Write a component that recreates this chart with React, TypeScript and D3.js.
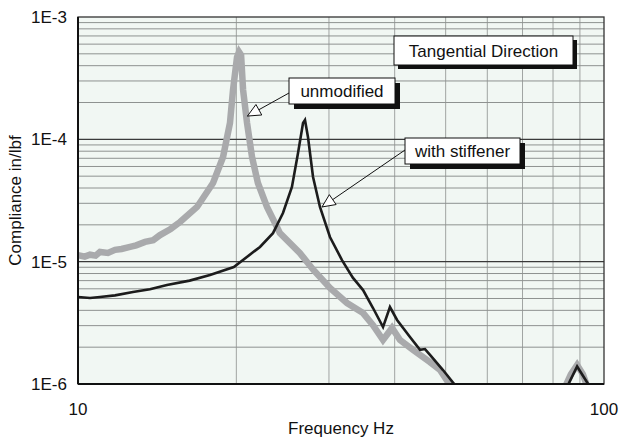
import React from 'react';
import * as d3 from 'd3';

// unmodified (grey, thick)
const grayFreq = [10.0, 10.3, 10.54, 10.8, 11.01, 11.4, 11.76, 12.1, 12.56, 12.9, 13.41, 13.9, 14.32, 15.0, 15.63, 16.84, 18.06, 18.87, 19.45, 19.71, 20.06, 20.24, 20.42, 20.6, 20.96, 21.42, 21.98, 22.87, 23.89, 24.2, 26.4, 28.0, 30.13, 32.47, 34.83, 36.38, 38.01, 39.54, 40.95, 43.35, 46.69, 48.78, 50.96, 60, 75, 83.6, 86.5, 88.9, 91.2, 93.6];
const grayVals = [1.13e-5, 1.1e-5, 1.14e-5, 1.12e-5, 1.2e-5, 1.18e-5, 1.25e-5, 1.27e-5, 1.32e-5, 1.36e-5, 1.45e-5, 1.5e-5, 1.65e-5, 1.85e-5, 2.11e-5, 2.8e-5, 4.4e-5, 7.17e-5, 1.36e-4, 2.53e-4, 4.71e-4, 5.18e-4, 4.89e-4, 2.53e-4, 1.36e-4, 7.17e-5, 4.4e-5, 2.8e-5, 1.92e-5, 1.71e-5, 1.18e-5, 8.6e-6, 6.09e-6, 4.59e-6, 3.8e-6, 3.03e-6, 2.29e-6, 2.87e-6, 2.29e-6, 1.9e-6, 1.51e-6, 1.3e-6, 0.98e-6, 0.7e-6, 0.6e-6, 0.87e-6, 1.2e-6, 1.43e-6, 1.2e-6, 0.87e-6];

// with stiffener (black)
const blackFreq = [10.0, 10.54, 11.01, 11.76, 12.72, 13.7, 14.76, 16.3, 17.82, 19.78, 22.18, 23.48, 24.53, 25.51, 26.2, 26.78, 27.01, 27.37, 27.98, 28.84, 30.13, 31.76, 33.3, 34.83, 36.38, 38.01, 39.18, 40.42, 42.77, 44.69, 45.68, 46.69, 49.42, 52.09, 60, 75, 85.1, 88.9, 94.0];
const blackVals = [5.14e-6, 5.05e-6, 5.14e-6, 5.3e-6, 5.65e-6, 5.95e-6, 6.44e-6, 7.0e-6, 7.78e-6, 9.04e-6, 1.32e-5, 1.71e-5, 2.5e-5, 4.08e-5, 7.73e-5, 1.36e-4, 1.44e-4, 1.04e-4, 4.92e-5, 2.8e-5, 1.59e-5, 1.03e-5, 7.4e-6, 5.86e-6, 4.18e-6, 2.92e-6, 4.26e-6, 3.34e-6, 2.42e-6, 1.9e-6, 1.93e-6, 1.73e-6, 1.3e-6, 0.98e-6, 0.7e-6, 0.6e-6, 0.95e-6, 1.39e-6, 0.95e-6];

const yTickLabels = ['1E-6', '1E-5', '1E-4', '1E-3'];
const yTickVals = [1e-6, 1e-5, 1e-4, 1e-3];
const xTickLabels = ['10', '100'];
const xTickVals = [10, 100];

const notes = [
  { text: 'unmodified', box: [289, 78, 106, 26], from: [289, 93], tip: [21.0, 1.55e-4] },
  { text: 'with stiffener', box: [405, 138, 115, 26], from: [405, 150], tip: [29.1, 2.8e-5] },
];

const font = '"Liberation Sans", Arial, sans-serif';

export default function App() {
  const W = 619, H = 439;
  const m = { left: 78, right: 604, top: 17, bottom: 384 };
  const x = d3.scaleLog().domain([10, 100]).range([m.left, m.right]);
  const y = d3.scaleLog().domain([1e-6, 1e-3]).range([m.bottom, m.top]);

  const line = d3.line<[number, number]>().x(d => x(d[0])).y(d => y(d[1]));
  const gray = line(grayFreq.map((f, i) => [f, grayVals[i]]) as [number, number][]) || '';
  const black = line(blackFreq.map((f, i) => [f, blackVals[i]]) as [number, number][]) || '';

  const yMinor: number[] = [];
  [1e-6, 1e-5, 1e-4].forEach(d => { for (let k = 2; k <= 9; k++) yMinor.push(k * d); });
  const xMinor = d3.range(20, 100, 10);

  const arrowHead = (fx: number, fy: number, tx: number, ty: number) => {
    const a = Math.atan2(fy - ty, fx - tx);
    const len = 13, half = 6;
    const bx = tx + Math.cos(a) * len, by = ty + Math.sin(a) * len;
    const px = -Math.sin(a) * half, py = Math.cos(a) * half;
    return `M${tx},${ty}L${bx + px},${by + py}L${bx - px},${by - py}Z`;
  };

  return (
    <svg width={W} height={H} style={{ position: 'absolute', left: 0, top: 0 }}>
      <defs>
        <clipPath id="plot">
          <rect x={m.left} y={m.top} width={m.right - m.left} height={m.bottom - m.top} />
        </clipPath>
      </defs>
      <rect width={W} height={H} fill="#fff" />
      <rect x={m.left} y={m.top} width={m.right - m.left} height={m.bottom - m.top} fill="#f1f7f3" />
      {xMinor.map(v => (
        <line key={'xv' + v} x1={x(v)} x2={x(v)} y1={m.top} y2={m.bottom} stroke="#a0a4a2" strokeWidth={1} />
      ))}
      {yMinor.map(v => (
        <line key={'ym' + v} x1={m.left} x2={m.right} y1={y(v)} y2={y(v)} stroke="#8e9290" strokeWidth={1} />
      ))}
      {[1e-5, 1e-4].map(v => (
        <line key={'yM' + v} x1={m.left} x2={m.right} y1={y(v)} y2={y(v)} stroke="#3a3a3a" strokeWidth={1.2} />
      ))}
      <g clipPath="url(#plot)">
        <path d={gray} fill="none" stroke="#a9aaac" strokeWidth={6.5} strokeLinejoin="miter" strokeMiterlimit={3} />
        <path d={black} fill="none" stroke="#1c1c1c" strokeWidth={2.6} strokeLinejoin="miter" strokeMiterlimit={3} />
      </g>
      <rect x={m.left} y={m.top} width={m.right - m.left} height={m.bottom - m.top} fill="none" stroke="#333" strokeWidth={1.3} />
      <line x1={m.left} x2={m.left} y1={m.top} y2={m.bottom} stroke="#111" strokeWidth={2} />
      <line x1={m.left} x2={m.right} y1={m.bottom} y2={m.bottom} stroke="#111" strokeWidth={2} />

      {yTickVals.map((v, i) => (
        <text key={'yt' + i} x={67} y={y(v) + 6} textAnchor="end" fontFamily={font} fontSize={17} fill="#111">{yTickLabels[i]}</text>
      ))}
      {xTickVals.map((v, i) => (
        <text key={'xt' + i} x={x(v)} y={415} textAnchor="middle" fontFamily={font} fontSize={17} fill="#111">{xTickLabels[i]}</text>
      ))}
      <text x={(m.left + m.right) / 2} y={434} textAnchor="middle" fontFamily={font} fontSize={17} fill="#111">Frequency Hz</text>
      <text transform={`translate(21,${(m.top + m.bottom) / 2}) rotate(-90)`} textAnchor="middle" fontFamily={font} fontSize={17} fill="#111">Compliance in/lbf</text>

      {/* title box */}
      <rect x={398} y={40} width={179} height={29} fill="#111" />
      <rect x={394} y={36} width={179} height={29} fill="#fff" stroke="#111" strokeWidth={1} />
      <text x={394 + 179 / 2} y={56.5} textAnchor="middle" fontFamily={font} fontSize={17} fill="#111">Tangential Direction</text>

      {notes.map(n => {
        const [bx, by, bw, bh] = n.box;
        const tx = x(n.tip[0]), ty = y(n.tip[1]);
        return (
          <g key={n.text}>
            <line x1={n.from[0]} y1={n.from[1]} x2={tx} y2={ty} stroke="#111" strokeWidth={1} />
            <path d={arrowHead(n.from[0], n.from[1], tx, ty)} fill="#fff" stroke="#111" strokeWidth={1} />
            <rect x={bx + 5} y={by + 5} width={bw} height={bh} fill="#111" />
            <rect x={bx} y={by} width={bw} height={bh} fill="#fff" stroke="#111" strokeWidth={1} />
            <text x={bx + bw / 2} y={by + 19} textAnchor="middle" fontFamily={font} fontSize={17} fill="#111">{n.text}</text>
          </g>
        );
      })}
    </svg>
  );
}
